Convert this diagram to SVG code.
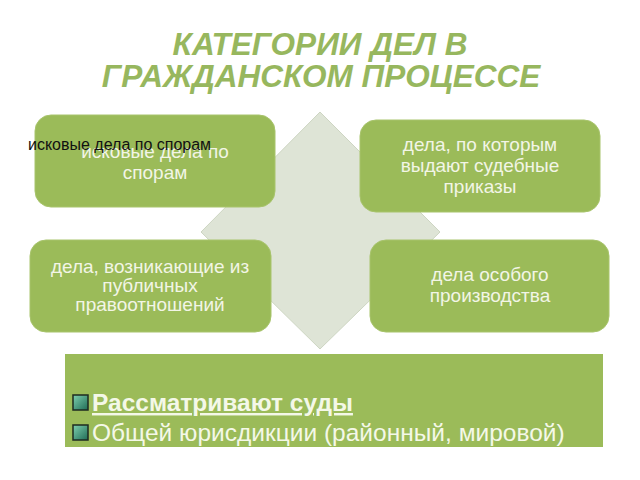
<svg xmlns="http://www.w3.org/2000/svg" width="640" height="480" viewBox="0 0 640 480">
<defs>
<style>
.title{font-family:"Liberation Sans",Arial,sans-serif;font-weight:bold;font-style:italic;font-size:31.5px;fill:#97b75e;text-anchor:middle}
.box{fill:#9bbb59;stroke:#a8c46c;stroke-width:1}
.bt{font-family:"Liberation Sans",Arial,sans-serif;font-size:19px;fill:#f2f5e6;text-anchor:middle}
.big{font-family:"Liberation Sans",Arial,sans-serif;font-size:24.5px;fill:#f4f8e8}
</style>
<linearGradient id="bul" x1="0" y1="0" x2="1" y2="1">
<stop offset="0" stop-color="#7fd0b0"/>
<stop offset="1" stop-color="#1f6b55"/>
</linearGradient>
</defs>
<rect width="640" height="480" fill="#ffffff"/>
<text class="title" x="320" y="55">КАТЕГОРИИ ДЕЛ В</text>
<text class="title" x="321" y="87">ГРАЖДАНСКОМ ПРОЦЕССЕ</text>
<g id="diamond">
<polygon points="320,112 440,232 320,349 201,232" fill="#dee4d6" stroke="#cdd5c2" stroke-width="1"/>
</g>
<g id="connectors"></g>
<g id="n1">
<rect class="box" x="35" y="115" width="240" height="92" rx="16"/>
<text class="bt" x="155" y="158">исковые дела по</text>
<text class="bt" x="155" y="179">спорам</text>
</g>
<g id="n2">
<rect class="box" x="360" y="120" width="240" height="92" rx="16"/>
<text class="bt" x="480" y="151">дела, по которым</text>
<text class="bt" x="480" y="172">выдают судебные</text>
<text class="bt" x="480" y="193">приказы</text>
</g>
<g id="n3">
<rect class="box" x="30" y="240" width="241" height="92" rx="16"/>
<text class="bt" x="150" y="273">дела, возникающие из</text>
<text class="bt" x="150" y="292">публичных</text>
<text class="bt" x="150" y="311">правоотношений</text>
</g>
<g id="n4">
<rect class="box" x="370" y="240" width="239" height="92" rx="16"/>
<text class="bt" x="490" y="281">дела особого</text>
<text class="bt" x="490" y="302">производства</text>
</g>
<g id="label">
<text x="28" y="150" font-family="Liberation Sans,Arial,sans-serif" font-size="16px" fill="#111111">исковые дела по спорам</text>
</g>
<g id="courts">
<rect x="65" y="354" width="538" height="93" fill="#9bbb59"/>
<rect x="73" y="395" width="15" height="15" fill="url(#bul)" stroke="#1e2a20" stroke-width="1.5"/>
<rect x="73" y="425" width="15" height="15" fill="url(#bul)" stroke="#1e2a20" stroke-width="1.5"/>
<text class="big" x="92" y="411" font-weight="bold" text-decoration="underline">Рассматривают суды</text>
<text class="big" x="92" y="441">Общей юрисдикции (районный, мировой)</text>
</g>
</svg>
